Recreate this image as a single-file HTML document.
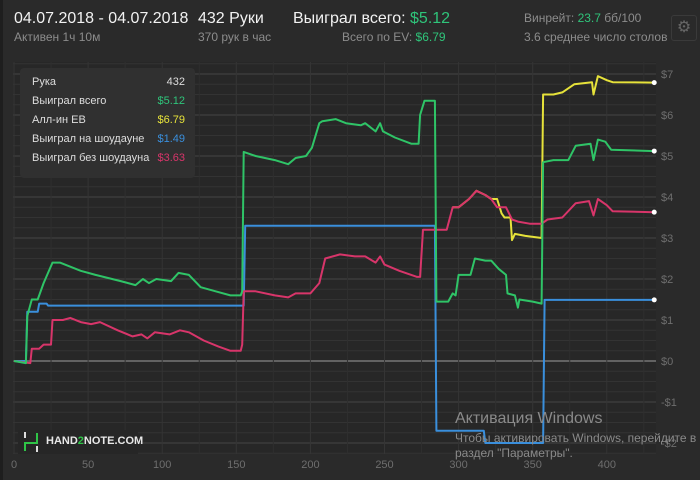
<!DOCTYPE html>
<html><head><meta charset="utf-8">
<style>
body{margin:0;background:#1e1e1e;font-family:"Liberation Sans","Noto Sans CJK SC",sans-serif;}
#wrap{position:relative;width:700px;height:480px;background:#2a2a2a;overflow:hidden;border-left:3px solid #1e1e1e;box-sizing:border-box}
.t{position:absolute;white-space:nowrap}
</style></head><body>
<div id="wrap">
<div class="t" style="left:11px;top:10px;font-size:16px;color:#f2f2f2">04.07.2018 - 04.07.2018</div>
<div class="t" style="left:11px;top:30px;font-size:12px;color:#8c8c8c">Активен 1ч 10м</div>
<div class="t" style="left:195px;top:10px;font-size:16px;color:#f2f2f2">432 Руки</div>
<div class="t" style="left:195px;top:30px;font-size:12px;color:#8c8c8c">370 рук в час</div>
<div class="t" style="left:290px;top:10px;font-size:16px;color:#f2f2f2">Выиграл всего: <span style="color:#2fc47a">$5.12</span></div>
<div class="t" style="left:339px;top:30px;font-size:12px;color:#8c8c8c">Всего по EV: <span style="color:#2fc47a">$6.79</span></div>
<div class="t" style="left:521px;top:11px;font-size:12px;color:#8c8c8c">Винрейт: <span style="color:#2fc47a">23.7</span> бб/100</div>
<div class="t" style="left:521px;top:30px;font-size:12px;color:#8c8c8c">3.6 среднее число столов</div>
<div class="t" style="left:668px;top:15px;width:24px;height:24px;border:1px solid #3a3a3a;border-radius:3px;color:#666;font-size:16px;text-align:center;line-height:24px">⚙</div>
<svg id="chart" width="700" height="480" style="position:absolute;left:-3px;top:0"></svg>
<div class="t" style="left:17px;top:68px;width:175px;height:110px;background:#303030;border-radius:4px;font-size:11px;color:#ddd">
<div class="t" style="left:12px;top:8px">Рука</div><div class="t" style="right:10px;top:8px">432</div>
<div class="t" style="left:12px;top:27px">Выиграл всего</div><div class="t" style="right:10px;top:27px;color:#2fc47a">$5.12</div>
<div class="t" style="left:12px;top:46px">Алл-ин ЕВ</div><div class="t" style="right:10px;top:46px;color:#e6e23a">$6.79</div>
<div class="t" style="left:12px;top:65px">Выиграл на шоудауне</div><div class="t" style="right:10px;top:65px;color:#3a8fdc">$1.49</div>
<div class="t" style="left:12px;top:84px">Выиграл без шоудауна</div><div class="t" style="right:10px;top:84px;color:#d8356a">$3.63</div>
</div>
<div class="t" style="left:15px;top:430px;width:120px;height:24px;background:#262626">
<svg width="20" height="22" style="position:absolute;left:4px;top:1px"><rect x="2" y="1" width="2" height="6" fill="#ddd"/><rect x="14" y="15" width="2" height="6" fill="#ddd"/><path d="M3 20V12H15V2" stroke="#2fc447" stroke-width="2" fill="none"/></svg>
<div class="t" style="left:28px;top:5px;font-size:11px;font-weight:bold;color:#e8e8e8">HAND<span style="color:#2fc447">2</span>NOTE.COM</div></div>
<div class="t" style="left:452px;top:410px;font-size:16px;color:#8a8a8a">Активация Windows</div>
<div class="t" style="left:452px;top:431px;font-size:12px;color:#8a8a8a;line-height:15px">Чтобы активировать Windows, перейдите в<br>раздел "Параметры".</div>
</div>
<script>
const xTicks=[0,50,100,150,200,250,300,350,400];
const yTicks=[-2,-1,0,1,2,3,4,5,6,7];
const greenHands=[0,8,9,12,16,20,26,31,38,45,55,72,82,87,91,96,106,111,118,126,136,146,153,154,155,163,176,185,190,197,201,206,208,217,224,234,237,244,247,249,257,268,273,274,277,284,285,293,296,298,300,308,311,318,322,327,332,333,338,340,341,350,356,357,364,374,379,389,391,394,399,403,432];
const greenVals=[0,-0.05,1.1,1.5,1.5,1.9,2.4,2.4,2.3,2.2,2.1,1.95,1.85,2.0,1.9,2.0,1.95,2.15,2.1,1.8,1.7,1.6,1.6,1.7,5.1,5.0,4.9,4.8,4.95,5.0,5.2,5.8,5.85,5.9,5.8,5.75,5.8,5.6,5.8,5.6,5.45,5.3,5.3,6.0,6.35,6.35,1.45,1.45,1.65,1.6,2.1,2.1,2.5,2.45,2.45,2.25,2.1,1.65,1.6,1.3,1.5,1.45,1.4,4.85,4.9,4.9,5.25,5.3,4.9,5.4,5.35,5.15,5.12];
const redHands=[0,11,12,17,20,25,26,33,38,45,52,58,70,80,86,90,95,105,112,118,128,138,146,153,154,155,163,176,185,190,200,206,210,220,230,237,244,247,250,260,272,274,276,284,292,296,300,307,312,318,322,326,332,336,340,348,356,360,370,379,388,391,394,400,404,432];
const redVals=[0,-0.05,0.3,0.3,0.4,0.4,1.0,1.0,1.05,0.95,0.9,0.95,0.75,0.6,0.65,0.55,0.7,0.65,0.75,0.7,0.5,0.35,0.25,0.25,0.4,1.7,1.7,1.6,1.55,1.65,1.65,1.9,2.5,2.6,2.55,2.55,2.4,2.55,2.35,2.2,2.05,2.05,3.2,3.2,3.2,3.75,3.75,3.95,4.15,4.05,3.95,3.75,3.75,3.45,3.4,3.35,3.35,3.45,3.5,3.85,3.9,3.55,3.95,3.8,3.65,3.63];
const evHands=[296,300,307,312,318,322,326,329,331,335,336,338,345,356,357,364,370,378,390,391,394,400,404,432];
const evVals=[3.75,3.75,3.95,4.15,4.05,3.95,3.95,3.6,3.5,3.5,2.95,3.1,3.05,3.0,6.5,6.5,6.55,6.75,6.8,6.5,6.95,6.85,6.8,6.79];
const sdHands=[0,8,9,16,17,22,23,155,156,284,285,317,318,357,358,432];
const sdVals=[0,0,1.2,1.2,1.4,1.4,1.35,1.35,3.3,3.3,-1.7,-1.7,-2.0,-2.0,1.49,1.49];
const svg=document.getElementById('chart');const NS='http://www.w3.org/2000/svg';
const X=h=>14+h*1.482, Y=v=>361-v*41;
const L=13,R=656,T=62,B=454;
function mk(t,a){const e=document.createElementNS(NS,t);for(const k in a)e.setAttribute(k,a[k]);svg.appendChild(e);return e;}
let bg=mk('rect',{x:L,y:T,width:R-L,height:B-T,fill:'#272727'});


for(let v=-2.5;v<=7.5;v+=0.25){const y=Y(v);if(y<T||y>B)continue;const major=Math.abs(v-Math.round(v))<1e-6;
 const g=mk('line',{x1:L,x2:R,y1:y,y2:y,stroke:v===0?'#777':(major?'#444':'#333'),'stroke-width':v===0?1.5:1});
 
 }
for(let h=0;h<=425;h+=25){const g=mk('line',{x1:X(h),x2:X(h),y1:T,y2:B,stroke:h%50===0?'#353535':'#2f2f2f'});
 
 }
xTicks.forEach(h=>{const t=mk('text',{x:X(h),y:468,fill:'#6e6e6e','font-size':11,'text-anchor':'middle','font-family':'Liberation Sans'});t.textContent=h;
 
 });
yTicks.forEach(v=>{const t=mk('text',{x:661,y:Y(v)+4,fill:'#6e6e6e','font-size':11,'font-family':'Liberation Sans'});t.textContent=(v<0?'-$':'$')+Math.abs(v);
 
 });
function line(hs,vs,col,name){const d=hs.map((h,i)=>(i?'L':'M')+X(h).toFixed(1)+' '+Y(vs[i]).toFixed(1)).join('');
 const p=mk('path',{d:d,stroke:col,'stroke-width':2,fill:'none','stroke-linejoin':'round'});
 
 
 const c=mk('circle',{cx:X(hs[hs.length-1]),cy:Y(vs[vs.length-1]),r:2.5,fill:'#fff'});
 
 }
line(sdHands,sdVals,'#3a8fdc','showdown-line');
line(evHands,evVals,'#e6e23a','allin-ev-line');
line(redHands,redVals,'#d8356a','non-showdown-line');
line(greenHands,greenVals,'#2fc467','total-won-line');
</script>
</body></html>
